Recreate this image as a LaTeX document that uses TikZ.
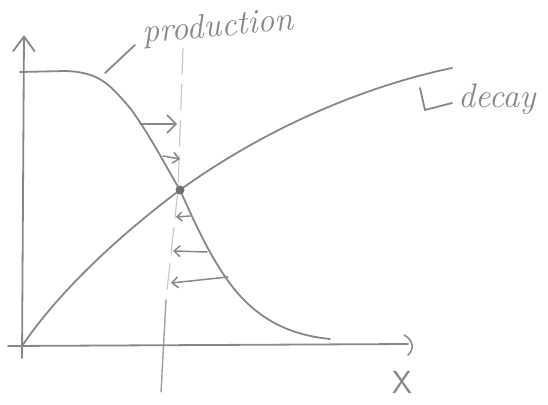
\documentclass[tikz,border=0pt]{standalone}
\usetikzlibrary{arrows.meta}
\definecolor{pencil}{RGB}{135,135,135}
\definecolor{faint}{RGB}{200,200,200}
\begin{document}
\begin{tikzpicture}[x=1pt,y=-1pt,
  stroke/.style={draw=pencil,line width=1.8pt,line cap=round,line join=round},
  faintline/.style={draw=faint,line width=1.2pt,line cap=round},
  hand/.style={text=pencil,font=\fontsize{34}{34}\selectfont\itshape,inner sep=0pt},
  flux/.style={stroke,line width=1.5pt},
  bighead/.style={-{Straight Barb[length=9pt,width=18pt]}},
  smallhead/.style={-{Straight Barb[length=6pt,width=11pt]}}]
\useasboundingbox (0,0) rectangle (548,404);
% key points
\coordinate (O) at (22,346);
\coordinate (ytop) at (24,35);
\coordinate (xleft) at (8,346);
\coordinate (xend) at (408,344);
\coordinate (cross) at (180,190);
% guide line through the crossing
\draw[faintline,dash pattern=on 26pt off 10pt] (183,48) -- (178,190) -- (166,300);
\draw[stroke,draw=pencil!80,line width=1.4pt] (166,300) -- (161,392);
% axes
\draw[stroke,-{Straight Barb[length=15pt,width=22pt]}] (22,358) -- (ytop);
\draw[stroke] (xleft) -- (xend);
\draw[stroke,line width=1.5pt] (404,335) .. controls (414,340) and (414,350) .. (408,355);
% production curve
\draw[stroke] (20,72) -- (65,71) .. controls (100,72) and (110,85) .. (130,108)
  .. controls (150,135) and (165,165) .. (cross)
  .. controls (200,235) and (215,265) .. (235,290)
  .. controls (260,320) and (290,335) .. (330,339);
% decay curve
\draw[stroke] (O) .. controls (60,290) and (120,235) .. (cross)
  .. controls (270,125) and (370,85) .. (452,68);
\node[circle,fill=pencil!120,inner sep=0pt,minimum size=9pt] (dot) at (cross) {};
% flux arrows
\coordinate (a1s) at (140,124); \coordinate (a1e) at (177,124);
\coordinate (a2s) at (163,156); \coordinate (a2e) at (180,159);
\coordinate (b1s) at (190,216); \coordinate (b1e) at (176,217);
\coordinate (b2s) at (207,252); \coordinate (b2e) at (173,251);
\coordinate (b3s) at (228,277); \coordinate (b3e) at (171,283);
\draw[flux,bighead] (a1s) -- (a1e);
\draw[flux,smallhead] (a2s) -- (a2e);
\draw[flux,-{Straight Barb[length=5pt,width=9pt]}] (b1s) -- (b1e);
\draw[flux,smallhead] (b2s) -- (b2e);
\draw[flux,smallhead] (b3s) -- (b3e);
% labels
\node[hand,anchor=base west,rotate=5] (prod) at (143,43) {production};
\coordinate (prodtip) at (135,45);
\coordinate (prodcurve) at (105,73);
\draw[stroke] (prodtip) -- (prodcurve);
\node[hand,anchor=base west] (decay) at (458,107) {decay};
\coordinate (decaytop) at (420,88);
\coordinate (decayend) at (452,103);
\draw[stroke] (decaytop) -- (425,110) -- (decayend);
\node[text=pencil,font=\fontsize{32}{32}\selectfont\sffamily,inner sep=0pt,anchor=north] (X) at (402,371) {X};
\end{tikzpicture}
\end{document}
